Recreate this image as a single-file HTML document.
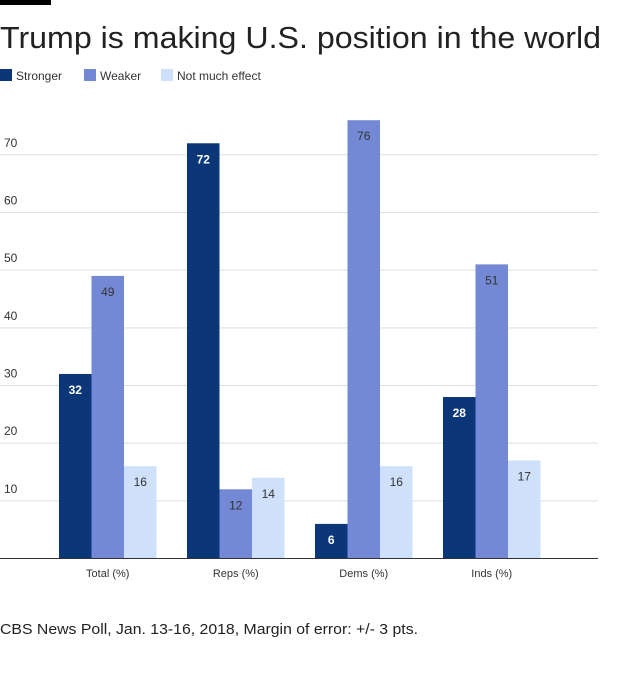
<!DOCTYPE html>
<html><head><meta charset="utf-8"><style>
body{margin:0;background:#fff;width:620px;height:693px;overflow:hidden;font-family:"Liberation Sans",sans-serif;}
</style></head><body>
<svg width="620" height="693" xmlns="http://www.w3.org/2000/svg">
<rect x="0" y="0" width="51" height="5" fill="#000"/>
<text x="0" y="48" font-size="31" textLength="601" lengthAdjust="spacingAndGlyphs" fill="#222">Trump is making U.S. position in the world</text>
<g id="legend"></g>
<g id="grid"></g>
<g id="bars"></g>
<line x1="0" y1="558.5" x2="598" y2="558.5" stroke="#333" stroke-width="1"/>
<text x="0" y="634" font-size="15" textLength="418" lengthAdjust="spacingAndGlyphs" fill="#222">CBS News Poll, Jan. 13-16, 2018, Margin of error: +/- 3 pts.</text>
</svg>
<script>
const categories=["Total (%)","Reps (%)","Dems (%)","Inds (%)"];
const seriesNames=["Stronger","Weaker","Not much effect"];
const stronger=[32,72,6,28];
const weaker=[49,12,76,51];
const notMuch=[16,14,16,17];
const yTicks=[10,20,30,40,50,60,70];
const NS="http://www.w3.org/2000/svg";
const colors=["#0b3678","#7389d5","#cfe1fa"];
const textColors=["#fff","#333","#333"];
const y0=558.5, perUnit=5.767;
function yScale(v){return y0-v*perUnit;}
function xGroup(i){return 59+i*128;}
const bw=32.5;
function mk(tag,attrs,parent){const e=document.createElementNS(NS,tag);for(const k in attrs)e.setAttribute(k,attrs[k]);parent.appendChild(e);return e;}
const grid=document.getElementById('grid');
yTicks.forEach(t=>{
  const l=mk('line',{x1:0,x2:598,y1:yScale(t),y2:yScale(t),stroke:'#ddd'},grid);
  
  
  const tx=mk('text',{x:4,y:yScale(t)-8,'font-size':12,fill:'#333'},grid);
  tx.textContent=t;
  
  
});
const leg=document.getElementById('legend');
const legX=[0,84,161];
seriesNames.forEach((n,i)=>{
  const r=mk('rect',{x:legX[i],y:69,width:12,height:12,fill:colors[i]},leg);
  
  
  const t=mk('text',{x:legX[i]+16,y:80,'font-size':12,fill:'#333'},leg);
  t.textContent=n;
  
  
});
const bars=document.getElementById('bars');
const series=[stronger,weaker,notMuch];
categories.forEach((c,i)=>{
  series.forEach((s,j)=>{
    const x=xGroup(i)+j*bw, y=yScale(s[i]);
    const r=mk('rect',{x:x,y:y,width:bw,height:y0-y,fill:colors[j]},bars);
    
    
    const t=mk('text',{x:x+bw/2,y:y+20,'font-size':12,'text-anchor':'middle',fill:textColors[j],'font-weight':j==0?'bold':'normal'},bars);
    t.textContent=s[i];
    
    
  });
  const t=mk('text',{x:xGroup(i)+bw*1.5,y:577,'font-size':11,'text-anchor':'middle',fill:'#333'},bars);
  t.textContent=c;
  
  
});
</script>
</body></html>
